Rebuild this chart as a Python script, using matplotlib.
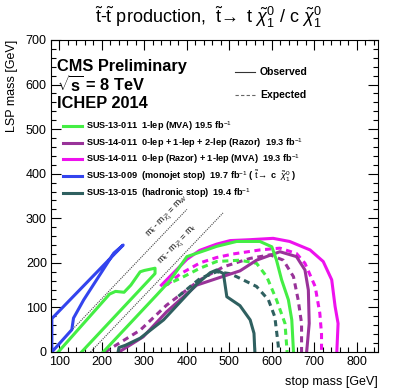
import matplotlib
matplotlib.use("Agg")
import matplotlib.pyplot as plt
from matplotlib.lines import Line2D
from matplotlib.ticker import MultipleLocator

plt.rcParams['font.family'] = ['Liberation Sans', 'DejaVu Sans']
plt.rcParams['mathtext.fontset'] = 'custom'
plt.rcParams['mathtext.rm'] = 'Liberation Sans'
plt.rcParams['mathtext.it'] = 'Liberation Sans:italic'
plt.rcParams['mathtext.bf'] = 'Liberation Sans:bold'

# contours (stop mass, LSP mass) in GeV
blue_x = [82, 82, 250, 228, 157, 133, 129, 82]
blue_y = [0, 75, 240, 222, 117, 76, 50, 0]

green_a_x = [97, 218, 232, 252, 268, 290, 300, 325, 325, 152]
green_a_y = [0, 130, 136, 134, 150, 180, 183, 188, 176, 0]

green_obs_x = [203, 329, 360, 400, 446, 470, 517, 572, 600, 611, 623, 639, 647, 651]
green_obs_y = [0, 128, 160, 214, 229, 237, 248, 248, 236, 206, 162, 117, 72, 0]
green_exp_x = [345, 384, 431, 470, 525, 564, 588, 611, 631, 636]
green_exp_y = [148, 165, 188, 203, 206, 199, 169, 117, 64, 0]

mag_obs_x = [340, 400, 430, 470, 502, 549, 603, 642, 690, 721, 741, 749, 756, 753]
mag_obs_y = [150, 208, 228, 242, 250, 252, 255, 248, 229, 203, 162, 102, 64, 0]
mag_exp_x = [352, 384, 431, 470, 509, 572, 619, 658, 678, 702, 713, 717, 717]
mag_exp_y = [150, 175, 200, 212, 220, 229, 233, 221, 199, 147, 87, 40, 0]

pur_obs_x = [240, 297, 352, 423, 480, 525, 564, 619, 658, 678, 686, 688, 682]
pur_obs_y = [0, 34, 90, 150, 168, 182, 206, 225, 214, 184, 139, 64, 0]
pur_exp_x = [207, 290, 352, 431, 486, 525, 549, 596, 627, 651, 662, 670, 670]
pur_exp_y = [0, 49, 105, 162, 191, 203, 210, 218, 206, 169, 117, 64, 0]

teal_obs_x = [238, 240, 255, 290, 345, 423, 455, 470, 486, 494, 525, 549, 558, 560]
teal_obs_y = [0, 10, 15, 31, 72, 152, 178, 184, 176, 124, 104, 72, 42, 0]
teal_exp_x = [380, 431, 470, 500, 517, 564, 592, 607, 615, 616]
teal_exp_y = [125, 165, 180, 176, 169, 147, 117, 79, 16, 0]

mw_x = [128, 400]
mw_y = [48, 320]
mt_x = [173, 485]
mt_y = [0, 312]

green = '#44ee44'
purple = '#993399'
magenta = '#ee11ee'
blue = '#3344ee'
teal = '#2f6060'
lw = 2.2

fig = plt.figure(figsize=(4.07, 3.91), dpi=100)
ax = fig.add_axes([51/407, 39/391, 327/407, 312/391])

ax.plot(mw_x, mw_y, color='#444444', ls=(0, (1, 1)), lw=0.8)
ax.plot(mt_x, mt_y, color='#444444', ls=(0, (1, 1)), lw=0.8)

ax.plot(mag_exp_x, mag_exp_y, color=magenta, lw=lw, ls=(0, (2, 1.5)))
ax.plot(pur_exp_x, pur_exp_y, color=purple, lw=lw, ls=(0, (2, 1.5)))
ax.plot(green_exp_x, green_exp_y, color=green, lw=lw, ls=(0, (2, 1.5)))
ax.plot(teal_exp_x, teal_exp_y, color=teal, lw=lw, ls=(0, (2, 1.5)))

ax.plot(mag_obs_x, mag_obs_y, color=magenta, lw=lw)
ax.plot(pur_obs_x, pur_obs_y, color=purple, lw=lw)
ax.plot(green_obs_x, green_obs_y, color=green, lw=lw)
ax.plot(green_a_x, green_a_y, color=green, lw=lw)
ax.plot(teal_obs_x, teal_obs_y, color=teal, lw=lw)
ax.plot(blue_x, blue_y, color=blue, lw=lw)

ax.text(355, 303, r'm$_{\mathrm{\tilde{t}}}$ - m$_{\tilde{\chi}^{0}_{1}}$ = m$_{W}$',
        rotation=46, ha='center', va='center', fontsize=6.2)
ax.text(381, 240, r'm$_{\mathrm{\tilde{t}}}$ - m$_{\tilde{\chi}^{0}_{1}}$ = m$_{t}$',
        rotation=46, ha='center', va='center', fontsize=6.2)

ax.set_xlim(80, 850)
ax.set_ylim(0, 700)
ax.xaxis.set_major_locator(MultipleLocator(100))
ax.xaxis.set_minor_locator(MultipleLocator(20))
ax.yaxis.set_major_locator(MultipleLocator(100))
ax.yaxis.set_minor_locator(MultipleLocator(20))
ax.tick_params(which='both', direction='in', top=True, right=True, labelsize=9, width=0.8)
ax.tick_params(which='major', length=7, pad=3)
ax.tick_params(which='minor', length=3.5)
for s in ax.spines.values():
    s.set_linewidth(0.8)

ax.set_xlabel('stop mass [GeV]', fontsize=9, loc='right', labelpad=6)
ax.set_ylabel('LSP mass [GeV]', fontsize=9, loc='top', labelpad=6)

fig.text(208/407, 1 - 17/391,
         r'$\mathrm{\tilde{t}}$-$\mathrm{\tilde{t}}$ production,  $\mathrm{\tilde{t}}\!\rightarrow$ t $\tilde{\chi}^{0}_{1}$ / c $\tilde{\chi}^{0}_{1}$',
         ha='center', va='center', fontsize=13)

fig.text(57/407, 1 - 67/391, 'CMS Preliminary', fontsize=11.8, weight='bold', va='center')
fig.text(57/407, 1 - 85/391, r'$\sqrt{\mathbf{s}}$ = 8 TeV', fontsize=11.8, weight='bold', va='center')
fig.text(57/407, 1 - 103/391, 'ICHEP 2014', fontsize=11.8, weight='bold', va='center')

leg_colors = [green, purple, magenta, blue, teal]
leg_texts = [
    r'SUS-13-011  1-lep (MVA) 19.5 fb$^{-1}$',
    r'SUS-14-011  0-lep + 1-lep + 2-lep (Razor)  19.3 fb$^{-1}$',
    r'SUS-14-011  0-lep (Razor) + 1-lep (MVA)  19.3 fb$^{-1}$',
    r'SUS-13-009  (monojet stop)  19.7 fb$^{-1}$ ( $\mathrm{\tilde{t}}\!\rightarrow$ c  $\tilde{\chi}^{0}_{1}$ )',
    r'SUS-13-015  (hadronic stop)  19.4 fb$^{-1}$',
]
leg_rows = [126, 143, 159, 176, 193]
for c, t, r in zip(leg_colors, leg_texts, leg_rows):
    fy = 1 - r/391
    fig.add_artist(Line2D([63/407, 82/407], [fy, fy], color=c, lw=lw))
    fig.text(86/407, fy, t, fontsize=6.6, weight='bold', va='center')

fy = 1 - 72/391
fig.add_artist(Line2D([235/407, 255/407], [fy, fy], color='#333333', lw=0.8))
fig.text(260/407, fy, 'Observed', fontsize=7.5, weight='bold', va='center')
fy = 1 - 95/391
fig.add_artist(Line2D([235/407, 255/407], [fy, fy], color='#666666', lw=0.8, ls=(0, (3, 2))))
fig.text(260/407, fy, 'Expected', fontsize=7.5, weight='bold', va='center')

fig.savefig('out.png', dpi=100)
